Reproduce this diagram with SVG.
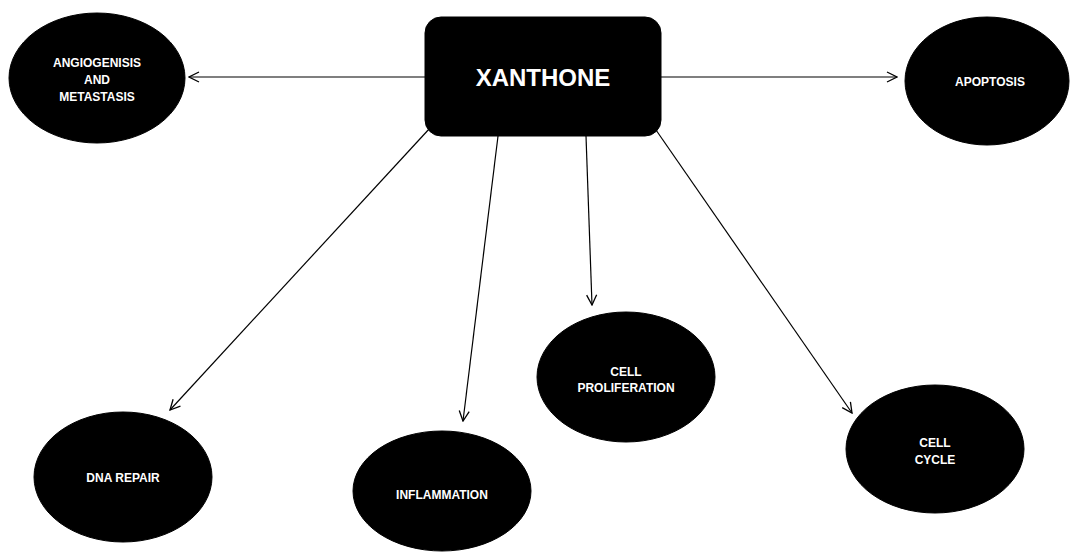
<svg xmlns="http://www.w3.org/2000/svg" width="1070" height="552" viewBox="0 0 1070 552">
<style>
.node{fill:#000;stroke:#000}
.lbl{fill:#fff;font-family:"Liberation Sans",Arial,sans-serif;font-weight:bold;font-size:12px;text-anchor:middle}
.title{fill:#fff;font-family:"Liberation Sans",Arial,sans-serif;font-weight:bold;font-size:24px;text-anchor:middle}
.conn{stroke:#000;stroke-width:1.2;fill:none;marker-end:url(#arr)}
</style>
<defs>
<marker id="arr" viewBox="0 0 12 12" refX="11" refY="6" markerWidth="12" markerHeight="12" markerUnits="userSpaceOnUse" orient="auto">
<path d="M1,1 L11,6 L1,11" fill="none" stroke="#000" stroke-width="1.3"/>
</marker>
</defs>
<rect width="1070" height="552" fill="#fff"/>
<g id="connectors">
<line class="conn" x1="425" y1="77" x2="189" y2="77"/>
<line class="conn" x1="661" y1="77" x2="897" y2="77"/>
<line class="conn" x1="430" y1="128" x2="170" y2="410"/>
<line class="conn" x1="498" y1="136" x2="463" y2="421"/>
<line class="conn" x1="586" y1="136" x2="592" y2="305"/>
<line class="conn" x1="656" y1="130" x2="852" y2="413"/>
</g>
<g id="xanthone">
<rect class="node" x="425" y="17" width="236" height="119" rx="16"/>
<text class="title" x="543" y="86">XANTHONE</text>
</g>
<g id="angiogenesis">
<ellipse class="node" cx="97" cy="78" rx="88" ry="65"/>
<text class="lbl" x="97" y="67">ANGIOGENISIS</text>
<text class="lbl" x="97" y="84">AND</text>
<text class="lbl" x="97" y="101">METASTASIS</text>
</g>
<g id="apoptosis">
<ellipse class="node" cx="987" cy="81" rx="82" ry="64"/>
<text class="lbl" x="990" y="86">APOPTOSIS</text>
</g>
<g id="dna-repair">
<ellipse class="node" cx="123" cy="477" rx="89" ry="65"/>
<text class="lbl" x="123" y="482">DNA REPAIR</text>
</g>
<g id="inflammation">
<ellipse class="node" cx="442" cy="491" rx="89" ry="60"/>
<text class="lbl" x="442" y="499">INFLAMMATION</text>
</g>
<g id="cell-proliferation">
<ellipse class="node" cx="626" cy="377" rx="89" ry="65"/>
<text class="lbl" x="626" y="376">CELL</text>
<text class="lbl" x="626" y="392">PROLIFERATION</text>
</g>
<g id="cell-cycle">
<ellipse class="node" cx="935" cy="449" rx="89" ry="64"/>
<text class="lbl" x="935" y="447">CELL</text>
<text class="lbl" x="935" y="464">CYCLE</text>
</g>
</svg>
